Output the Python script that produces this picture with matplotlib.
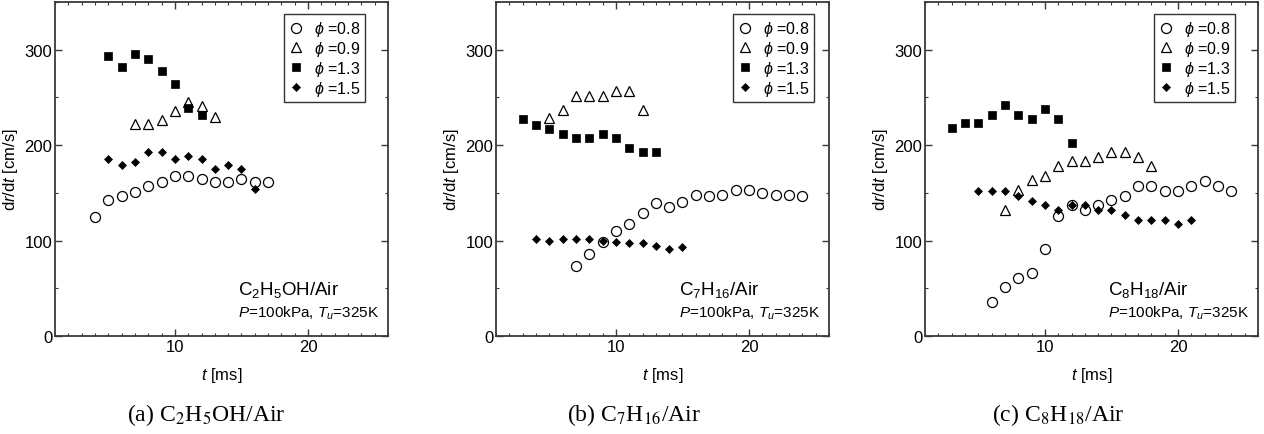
import matplotlib
matplotlib.use('Agg')
import matplotlib.pyplot as plt
from matplotlib.ticker import MultipleLocator

plt.rcParams['font.family'] = ['Liberation Sans', 'DejaVu Sans']
plt.rcParams['mathtext.fontset'] = 'custom'
plt.rcParams['mathtext.rm'] = 'Liberation Sans'
plt.rcParams['mathtext.it'] = 'Liberation Sans:italic'
plt.rcParams['mathtext.bf'] = 'Liberation Sans:bold'

# ---------------- data ----------------
# (a) C2H5OH/Air
a_t08 = list(range(4, 18))
a_v08 = [125, 143, 147, 151, 157, 161, 168, 168, 165, 161, 161, 165, 161, 161]
a_t09 = list(range(7, 14))
a_v09 = [222, 222, 226, 236, 245, 241, 230]
a_t13 = list(range(5, 13))
a_v13 = [293, 282, 296, 290, 278, 264, 239, 232]
a_t15 = list(range(5, 17))
a_v15 = [186, 179, 182, 193, 193, 186, 189, 186, 175, 179, 175, 154]

# (b) C7H16/Air
b_t08 = list(range(7, 25))
b_v08 = [73, 86, 98, 110, 117, 129, 139, 135, 140, 148, 147, 148, 153, 153, 150, 148, 148, 147]
b_t09 = list(range(5, 13))
b_v09 = [228, 237, 251, 251, 251, 257, 257, 237]
b_t13 = list(range(3, 14))
b_v13 = [227, 221, 217, 212, 207, 207, 212, 207, 197, 193, 193]
b_t15 = list(range(4, 16))
b_v15 = [102, 100, 102, 102, 102, 100, 98, 97, 97, 94, 91, 93]

# (c) C8H18/Air
c_t08 = list(range(6, 25))
c_v08 = [36, 51, 61, 66, 91, 126, 137, 132, 137, 142, 147, 157, 157, 152, 152, 157, 162, 157, 152]
c_t09 = list(range(7, 19))
c_v09 = [132, 153, 163, 168, 178, 183, 183, 188, 193, 193, 188, 178]
c_t13 = list(range(3, 13))
c_v13 = [218, 223, 223, 232, 242, 232, 227, 238, 227, 202]
c_t15 = list(range(5, 22))
c_v15 = [152, 152, 152, 147, 141, 137, 132, 137, 137, 132, 132, 127, 122, 122, 122, 117, 122]

phi_labels = [r'$\phi$ =0.8', r'$\phi$ =0.9', r'$\phi$ =1.3', r'$\phi$ =1.5']
fuel_labels = [r'C$_2$H$_5$OH/Air', r'C$_7$H$_{16}$/Air', r'C$_8$H$_{18}$/Air']
captions = [r'(a) C$_2$H$_5$OH/Air', r'(b) C$_7$H$_{16}$/Air', r'(c) C$_8$H$_{18}$/Air']
cond_label = r'$P$=100kPa, $T_u$=325K'

panels = [
    [(a_t08, a_v08), (a_t09, a_v09), (a_t13, a_v13), (a_t15, a_v15)],
    [(b_t08, b_v08), (b_t09, b_v09), (b_t13, b_v13), (b_t15, b_v15)],
    [(c_t08, c_v08), (c_t09, c_v09), (c_t13, c_v13), (c_t15, c_v15)],
]

styles = [
    dict(marker='o', ms=7.2, mfc='none', mec='black', mew=0.9),
    dict(marker='^', ms=7.6, mfc='none', mec='black', mew=0.9),
    dict(marker='s', ms=6.3, mfc='black', mec='black', mew=0.5),
    dict(marker='D', ms=4.5, mfc='black', mec='black', mew=0.5),
]

W, H = 1264, 435
fig = plt.figure(figsize=(W / 100, H / 100), dpi=100)

ax_left_px = [55, 496, 925]
ax_w_px = 333
ax_top_px, ax_bot_px = 3, 337
leg_right = [0.931, 0.955, 0.931]
cap_center_px = [206, 634, 1058]
spine_col = '#3a3a3a'

for i, left in enumerate(ax_left_px):
    ax = fig.add_axes([left / W, (H - ax_bot_px) / H, ax_w_px / W, (ax_bot_px - ax_top_px) / H])
    for (t, v), st, lab in zip(panels[i], styles, phi_labels):
        ax.plot(t, v, linestyle='none', label=lab, **st)
    ax.set_xlim(1, 26)
    ax.set_ylim(0, 350)
    ax.xaxis.set_major_locator(MultipleLocator(10))
    ax.xaxis.set_minor_locator(MultipleLocator(1))
    ax.yaxis.set_major_locator(MultipleLocator(100))
    ax.yaxis.set_minor_locator(MultipleLocator(50))
    ax.tick_params(which='both', direction='in', top=True, right=True, colors=spine_col,
                   labelcolor='black', labelsize=12, pad=2)
    ax.tick_params(which='major', length=5, width=1)
    ax.tick_params(which='minor', length=2.5, width=0.8)
    for s in ax.spines.values():
        s.set_color(spine_col)
        s.set_linewidth(1.3)
    ax.set_xlabel(r'$t$ [ms]', fontsize=12, labelpad=8)
    ax.set_ylabel(r'd$r$/d$t$ [cm/s]', fontsize=12)
    ax.yaxis.set_label_coords(-0.105, 0.5)
    leg = ax.legend(loc='upper right', bbox_to_anchor=(leg_right[i], 0.963), fontsize=11.5,
                    frameon=True, fancybox=False, framealpha=1, edgecolor='#333333',
                    handlelength=1.0, handletextpad=0.6, labelspacing=0.05,
                    borderpad=0.3, borderaxespad=0.0, numpoints=1)
    leg.get_frame().set_linewidth(1.0)
    ax.text(0.55, 0.141, fuel_labels[i], transform=ax.transAxes, fontsize=13.5,
            ha='left', va='center')
    ax.text(0.55, 0.072, cond_label, transform=ax.transAxes, fontsize=11,
            ha='left', va='center')
    fig.text(cap_center_px[i] / W, (H - 415) / H, captions[i],
             family=['Liberation Serif', 'DejaVu Serif'], math_fontfamily='stix',
             fontsize=17, ha='center', va='center')

fig.savefig('out.png', dpi=100)
